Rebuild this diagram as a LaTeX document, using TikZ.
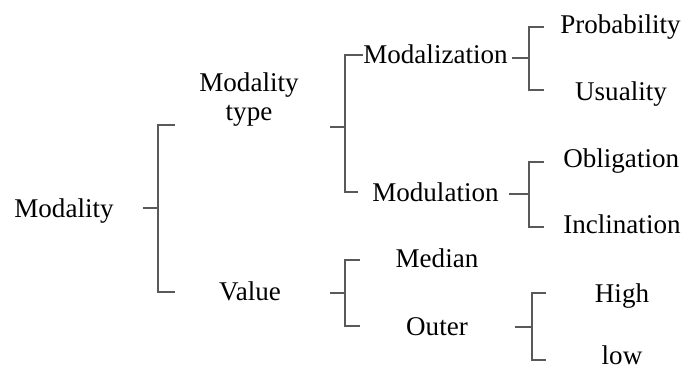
\documentclass[tikz,border=0pt]{standalone}
\usepackage{fontspec}
\setmainfont{Liberation Serif}

\begin{document}
\begin{tikzpicture}[x=0.02cm,y=-0.02cm,
        word/.style={font=\fontsize{15.4}{16.5}\selectfont, inner sep=0pt, align=center},
        brace/.style={line width=1.2pt, draw=black!65}]
        \useasboundingbox (0,0) rectangle (686,369);

        % labels, placed on their baselines
        \node[word, anchor=base] (modality) at (64,217) {Modality};
        \node[word, anchor=base] (type) at (249,120) {Modality\\type};
        \node[word, anchor=base] (value) at (250,300) {Value};
        \node[word, anchor=base west] (modaliz) at (363,63) {Modalization};
        \node[word, anchor=base west] (modul) at (372,201) {Modulation};
        \node[word, anchor=base west] (prob) at (560,33) {Probability};
        \node[word, anchor=base] (usual) at (621,100) {Usuality};
        \node[word, anchor=base west] (oblig) at (563,167) {Obligation};
        \node[word, anchor=base west] (inclin) at (563,233) {Inclination};
        \node[word, anchor=base] (median) at (437,267) {Median};
        \node[word, anchor=base] (outer) at (437,335) {Outer};
        \node[word, anchor=base] (high) at (622,302) {High};
        \node[word, anchor=base] (low) at (622,364) {low};

        % Modality -> type / value
        \coordinate (s1) at (143,208);
        \coordinate (t1) at (175,125);
        \coordinate (u1) at (175,292);
        \draw[brace] (s1) -- (158,208);
        \draw[brace] (t1) -| (158,292) -- (u1);

        % type -> modalization / modulation
        \coordinate (s2) at (330,127);
        \draw[brace] (s2) -- (345,127);
        \draw[brace] (modaliz.west |- 0,55) -| (345,192) -- (358,192);

        % modalization -> probability / usuality
        \coordinate (s3) at (512,58);
        \draw[brace] (s3) -- (529,58);
        \draw[brace] (544,27) -| (529,90) -- (544,90);

        % modulation -> obligation / inclination
        \coordinate (s4) at (509,194);
        \draw[brace] (s4) -- (529,194);
        \draw[brace] (544,162) -| (529,227) -- (544,227);

        % value -> median / outer
        \coordinate (s5) at (330,293);
        \draw[brace] (s5) -- (345,293);
        \draw[brace] (360,260) -| (345,326) -- (360,326);

        % outer -> high / low
        \coordinate (s6) at (515,327);
        \draw[brace] (s6) -- (532,327);
        \draw[brace] (546,293) -| (532,360) -- (546,360);
    \end{tikzpicture}
\end{document}
